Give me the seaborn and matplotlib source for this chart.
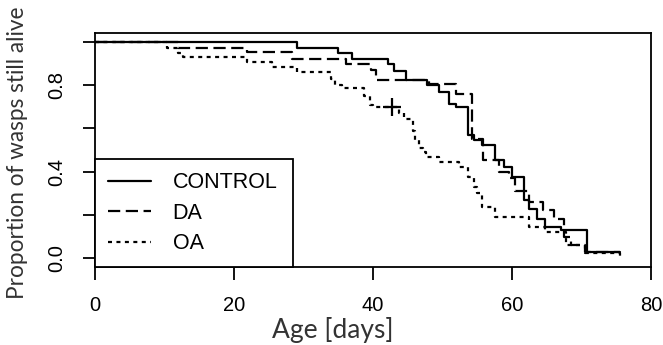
import numpy as np
import pandas as pd
import matplotlib
matplotlib.use("Agg")
import matplotlib.pyplot as plt
import seaborn as sns

# Kaplan-Meier step values: (day, survival after that day)
control_days = [0, 29, 35, 37, 42.1, 43, 44.7, 47.8, 49.5, 50.9, 51.9, 53.6, 54.5, 55.7,
                57.5, 58.8, 60.0, 61.7, 62.4, 63.6, 64.8, 67.0, 70.8, 75.6]
control_surv = [1.0, 0.969, 0.950, 0.918, 0.899, 0.865, 0.822, 0.80, 0.768, 0.714, 0.699,
                0.568, 0.545, 0.522, 0.453, 0.422, 0.376, 0.268, 0.23, 0.183, 0.145,
                0.129, 0.029, 0.029]

da_days = [0, 12, 21.8, 28.4, 36.1, 39.7, 40.5, 48.0, 51.9, 54.2, 55.8, 58.1, 59.5,
           60.5, 62.5, 64.5, 66.0, 67.5, 68.5, 70.5, 75.6]
da_surv = [1.0, 0.969, 0.951, 0.919, 0.899, 0.87, 0.822, 0.804, 0.757, 0.55, 0.453,
           0.40, 0.37, 0.31, 0.26, 0.222, 0.183, 0.10, 0.06, 0.029, 0.029]

oa_days = [0, 10.3, 12.0, 12.7, 21.8, 25.5, 29.0, 34.0, 34.5, 35.5, 38.7, 39.5, 40.0,
           43.8, 44.5, 45.7, 46.0, 46.6, 47.2, 47.6, 49.5, 52.4, 53.6, 54.5, 55.0,
           55.7, 57.6, 62.4, 64.8, 67.7, 70.5, 75.6]
oa_surv = [1.0, 0.969, 0.95, 0.93, 0.907, 0.882, 0.861, 0.83, 0.80, 0.784, 0.75, 0.71,
           0.699, 0.67, 0.645, 0.59, 0.545, 0.51, 0.49, 0.468, 0.445, 0.42, 0.376,
           0.33, 0.30, 0.237, 0.191, 0.145, 0.122, 0.06, 0.025, 0.0]

censor_day = [42.8]
censor_surv = [0.699]

groups = ["CONTROL", "DA", "OA"]

df = pd.concat([
    pd.DataFrame({"age": control_days, "surv": control_surv, "group": "CONTROL"}),
    pd.DataFrame({"age": da_days, "surv": da_surv, "group": "DA"}),
    pd.DataFrame({"age": oa_days, "surv": oa_surv, "group": "OA"}),
])

sns.set_style("white")
plt.rcParams["font.family"] = ["Liberation Sans", "DejaVu Sans"]
plt.rcParams["text.color"] = "black"

fig = plt.figure(figsize=(6.63, 3.45), dpi=100)
ax = fig.add_axes([95 / 663, (345 - 267) / 345, (651 - 95) / 663, (267 - 33) / 345])

dash_map = {"CONTROL": "", "DA": (5.5, 2.5), "OA": (1.8, 2.0)}
sns.lineplot(data=df, x="age", y="surv", style="group", style_order=groups,
             dashes=dash_map, color="black", linewidth=1.6, drawstyle="steps-post",
             estimator=None, legend=False, ax=ax)

ax.plot(censor_day, censor_surv, marker="+", ms=13, mew=1.6, color="black", ls="none")

ax.set_xlim(0, 80)
ax.set_ylim(-0.04, 1.04)
ax.set_xticks([0, 20, 40, 60, 80])
ax.set_yticks([0.0, 0.2, 0.4, 0.6, 0.8, 1.0])
ax.set_yticklabels(["0.0", "", "0.4", "", "0.8", ""])
ax.set_xlabel("")
ax.set_ylabel("")

for s in ax.spines.values():
    s.set_color("black")
    s.set_linewidth(1.3)

ax.tick_params(axis="both", direction="out", length=9, width=1.3, color="black",
               labelcolor="black", labelsize=14.5, pad=12, bottom=True, left=True)
ax.tick_params(axis="y", labelrotation=90)
for lab in ax.get_yticklabels():
    lab.set_va("center")

handles = ax.get_lines()[:3]
leg = ax.legend(handles, groups, loc="lower left", bbox_to_anchor=(0, 0, (293 - 95) / 556, 0.5),
                mode="expand", borderaxespad=0, fancybox=False, frameon=True,
                fontsize=15.5, handlelength=2.0, handletextpad=1.0, borderpad=0.6,
                labelspacing=0.44)
leg.get_frame().set_edgecolor("black")
leg.get_frame().set_linewidth(1.3)
leg.get_frame().set_alpha(1)

fig.text(333 / 663, (345 - 330) / 345, "Age [days]", family="Lato", fontsize=19,
         color="#333333", ha="center", va="center")
fig.text(18 / 663, (345 - 153) / 345, "Proportion of wasps still alive", family="Lato",
         fontsize=16.3, color="#333333", rotation=90, ha="center", va="center")

fig.savefig("out.png", dpi=100)
